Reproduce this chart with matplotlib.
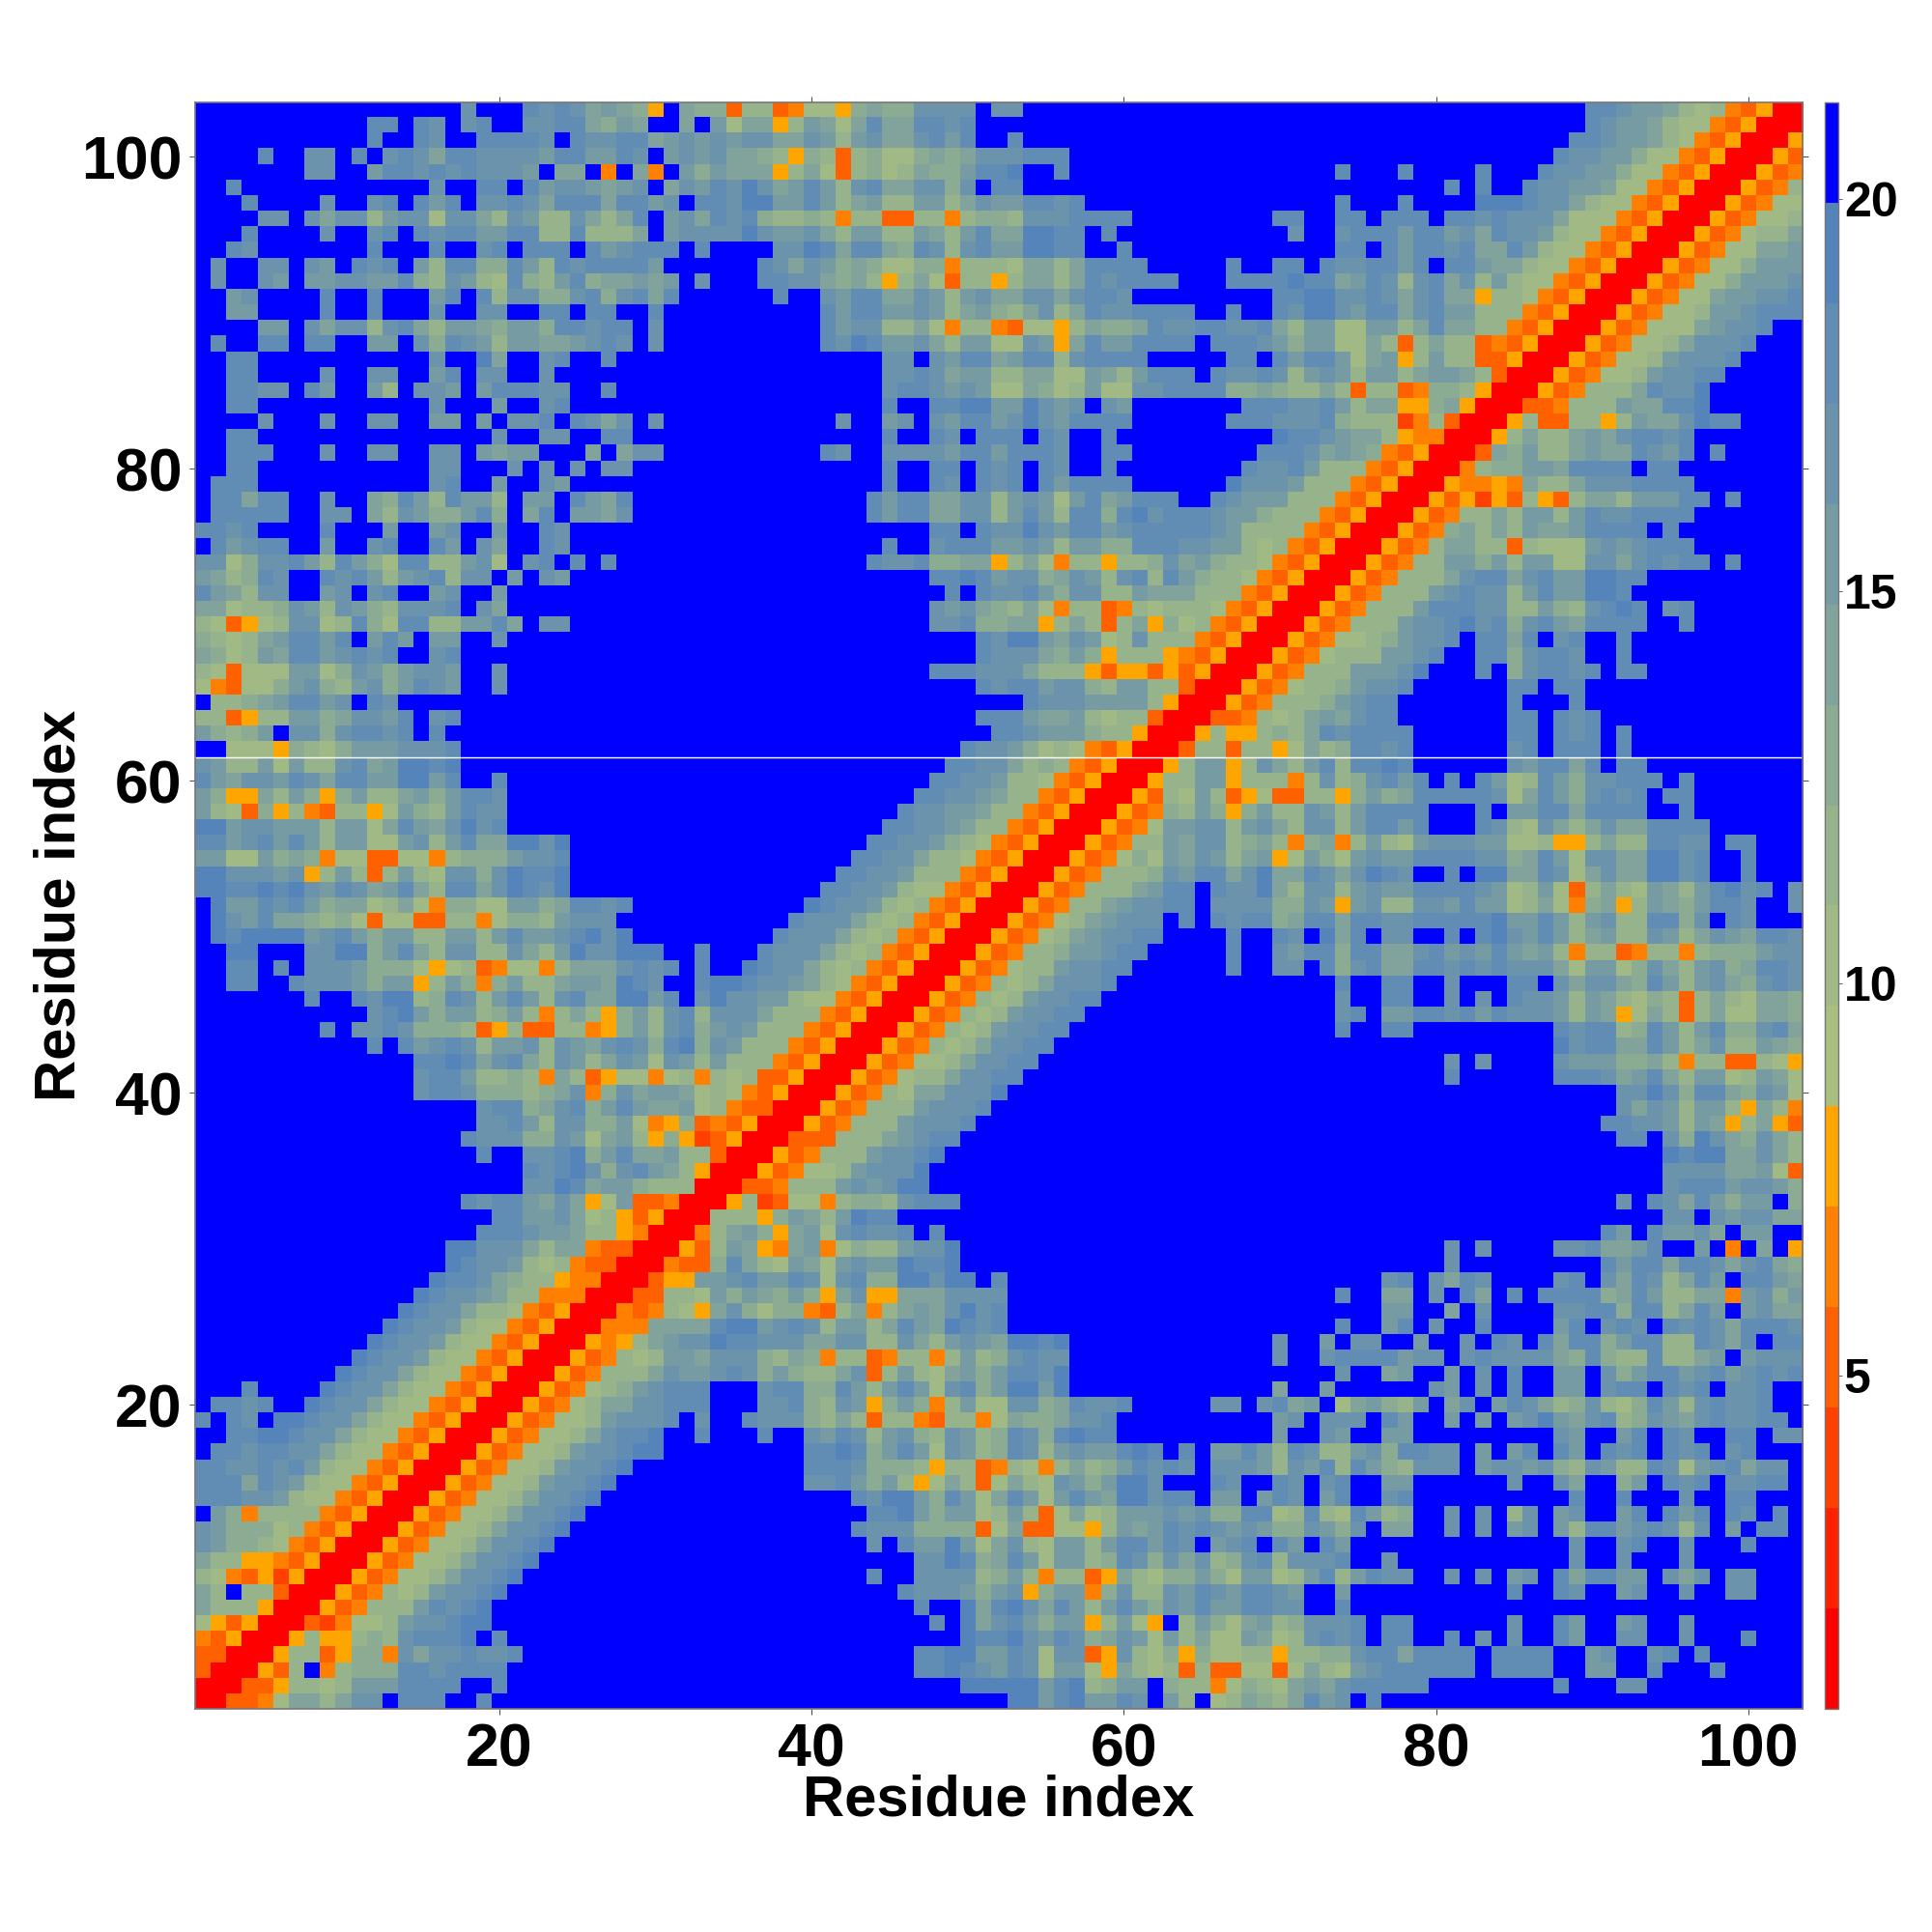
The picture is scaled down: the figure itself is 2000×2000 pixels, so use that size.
import numpy as np
import matplotlib
matplotlib.use("Agg")
import matplotlib.pyplot as plt
from matplotlib.colors import ListedColormap, BoundaryNorm

# Distance classes, one character per cell, upper triangle (x <= y).
# Rows run from residue y=103 down to y=1. Chunks: x=1-35, x=36-69, x=70-103.
rows_103_87 = [
".................C...DCDCABA95.A993 88347759A99CCCC.CC................ ....................DDCBBA87843500",
"...........DD.DC.CD..CCDDA9BA..A.B7 AA58BA7ADAADDCD................... ....................DCBBA877435000",
"...........D..DC..DDDDC.DCCDDABCBCB CCAACB8BCAACDBD..D................ ...................DDCBBA8743500",
"....D..CC.D.CDCADDCCCCBDDBBDC.BCBCA A98598389779A9ACCCDDD............. ..................DCCBB97743500",
".......CC..BDDCDCDCCCB.AA.4.A4.B9BA AA58A738978A99BDDE..D............. ....D...D....D...DCCBB97743500",
"..D............C..DD.DBCCBABC.ACBDC ECABDB8CDAACC9C.DD................ ...........D.D..DCCBBA7743500",
"...D....C..CD.DBD.CCDCADDDADDBC.DDC EEBBDB8AB88BB8ACBBDDCD............ ....D...D....EEEDCCA87743500",
"....CC.CACC8BCC7CCA8CB88CA8AD.BCADC D98898488338848998CCCDDDD......... DD..DD.DDD.DDCDCCCA77743500",
"...D....C..CD.DCDDBBDD88D888A.BCCCC ECBBCA8BB88BA8BDAAEEDD.D.......... .C..CDDDBDDBCADCCB87743500",
"..DC.......D...D..CD.DDD.DBCDDD.D.. ..CCEDADDA9DC8CDBBEEDD..D......... ....DD.DBDDCDAADB87743500",
".C..CC.CB.DCD.B8DD99DB8DCDDDDB..... .DCACB9A9779948887AA8ADDDD.....D.. DD.DCCDDBD.DDBAA87743500",
".C..CB.BBCCBBD98CB87D98BD9AABAB.C.. .DDCCA9A858A738858AA8ADCDDDD...DDD DEDDABDC8CDAC8B87743500",
"..BC....D..D...BD.D8CC99CD9CDAD.... ..D..CBDDAACB8BCAACCACDDC......... DDEECCDCACDAA588743500",
"..BB....D..D...C..CC..DD.DD..D..... .....DBDDBBCB8AB98AC8ADCCDDDD..D.. DCEECBDDACDBB88843500",
"....BB.CACC8CDA8BBA9BB9DDCDD.C..... .....DBCC88A7488437758A99ADCCDDCCD A8BB77BB8ADAA8843500",
".D..DD.DD..BB.C9DCB8BBAABCDC.C..... .....DCEDBBCA8BB77CB5ADBBDDDD.DDDC B9BB77A838A88343500",
"..DD...........C..EA..CD..D........ .........CC.CBDDABDD8CDDDD.....DD. DBDDB7AB58B8833500",
]
rows_86_70 = [
"..DD....C..CC..BD.CC..C............ .........CCDCABB88AA77BA8BDDD.DCCD C8BCB8BB8ABBA8300",
"..DDCC.DB..B8.CCB.BDDDCC..D........ .........CDDCBCB77A978B77CCDDDD99A 988A838834998500",
"..DD...........C...B..CD........... .........D..DDEEBBECBC.CB.......DD DCCDB8AA559A500",
"....C...C..CC..BB.B.CCD.DCAC.C..... ......C..BC.CBDDBCECBDDDD......DDD CCCD9888248300",
"..DD...............C..CC..DD....... .........D..DC.DDD.DC..D.......... EDDCBAA854400",
"..DDD...C..CC..CC.BABB...A.ACC..... .....DC..CCCCBDDBDDDC..DD........D DDCABA943500",
"..DD...........CC...C.C.C.CC....... .........D..DD.DCD.DC..D........DC CDB88843500",
".DDD...........CD..B..CB........... .........D..DC.DCD.DBDDDD......ECC CB88843500",
".DDADD..C..A9DB8DBB8.BB.DBAD....... ........DBDDAACC8BCB7BDABDDD..DCBB B88843500",
".DDDDD..CC.A8CB99BD9.AD.BBAC....... ........DBDDAACC8BDB8DD9DECDDDCBB9 88843500",
"DDCD....D...B..BC..B..DC........... ............DD.DCCECBDDBCDDDDDCB88 8843500",
".DBCDD..B..CD..DB.CA..DC........... .........D..CDDDBBCB8BB99DDDCCBB87 843500",
"CC79CCDB8DB97DD88BC7.CD.D.D........ ........DCCD99AA58A74885889CAB9887 43500",
"BA89DC..DCDB8BCD8CC.B.CB........... ............DDEDBCC9ACB8CD8DB98874 3500",
"DBA8CC..BC.CD..BC..B............... .............D.DCCDB9CC88BAAA88843 500",
"AA7889CB8CB98CCCD.CA............... ............CBCA98A748834878887435 00",
"873578CC78D97DD88BBDA.CC........... ............CCD99AA58A838A59784350 0",
]
rows_69_36 = [
"9878ABDDBD.BDB.BB..C............... ...............DCEEBACB78C88843500",
"A978BADDBCDCD..CD.................. ...............DCCCA9B95888543500",
"873777BB79CB9BCCB..C............... ............DDDCCCA8885355353500",
"743779BC98BC9BDCB..C............... ...............DCDDBCC98BB88300",
".889ABDDBC.DC...................... ..................DCCCBBBB8500",
"883588BB9ACCBD.CD.................. ...............DDDBAAB8788300",
"B989B.CC9CDDCD.D................... ................DDCBBB988500",
"..77759879BBBCCCD.................. ..............DCCB978743500",
"CB88B7B88CDABEEDE.................. .............DDCCA89843500",
"DBACCBDCADDBBEEBD..D............... ............DDCCB88743500",
"B955A8B959B88AB9BDDC............... ...........DDCCBA8843500",
"B873958438857B98BDCC............... ..........DCCBBA8843500",
"EEBCCBBB8BB7ADBACECD............... .........DDCCBA8843500",
"DDBCDBDB8BB77BC8BDAAEECE........... ........DDCCB98743500",
"BB77B9A9477337748999BCCD........... .......DDCCA88743500",
"EECCCBC58B838B87CC9CEDDE........... ......DDCCB88843500",
"EEDDEDECBDCABDA8DDACEDCE........... .....DDCCB87743500",
".EBBDCDB9AA78A749977BB9ADDCD....... ....EDCCB87843500",
".ECBDAA9897377338847998BCCC........ ...DCCCA87843500",
".EDEEEEBCDB9BB88BB8BDBBCDECE....... ..DCCCA87843500",
"..EE...CCEE9BDA8CC88CA8BECCEEE..D.. .DCCCA87843500",
"..DD.D.CCCB9997578347748AAACDCD.D.. EDCCA87843500",
"..DD..DCCCB9BB58B949B88ABBAEDC..DEE DCCBA8743500",
".......D..DCEE89DC8BDB8CDAAEEBD.CEC CBB87743500",
"...........CDEB9BB89B848A859B8CD8CC CA88843500",
"........D.CCDC99983583388459B8CD9BC B88843500",
"...........D.DBCDC8BBC8CBACDC9DE9CB 88843500",
"..............DDEDACDA8CB8ACB7CB8B8 8843500",
"..............CDDB88984A83577478487 833500",
"..............CDDC99989AC49CABBA787 43500",
"..................CDD9ACD9BDBAAB784 3300",
"..................CCDB8CC99B7459343 500",
".................DCCC99CB7AB8595235 00",
"..................D..CCDE9BDAAB8830 0",
]
rows_35_1 = [
".....................DCDEC9CDBA8500",
".....................CCEDABB988800",
".................DCDDBACA57B33400",
"...................DDBBCA7853500",
"..................DDDCBBA885400",
"................EECCCA8AA43300",
"................EDCCB87843300",
"...............EDDCA98854400",
"..............EDCCBA8844400",
".............EDCCA88743500",
"............EDCCB87743500",
"...........EDCCB87743500",
"..........EDCCB87743500",
".........EDCCA87743500",
"...D....EDCCA87743500",
".DDCD..EDCCA87743500",
"D.DC.EEDCCA87743500",
"..DDEEDCCA87743500",
".DDCDDCCA87743500",
"DDCCDCDB87743500",
"DDDADCB87743500",
"DDDCCB87743500",
".B94888843500",
"CB9997843500",
"CB998743500",
"A885543500",
"874352500",
"A8.88300",
"A888500",
"753500",
"43500",
"3300",
"300",
"00",
"0",
]

tick_values = [20, 40, 60, 80, 100]
bar_ticks = [5, 10, 15, 20]
x_label = "Residue index"
y_label = "Residue index"
band_colors = ["#ff0000", "#ff2000", "#ff4000", "#ff6000", "#ff8000", "#ffa500",
               "#a8bf80", "#a1ba85", "#97b38b", "#8cab93", "#81a39b", "#769ba3",
               "#6b93ab", "#618cb3", "#5584bb", "#0000ff"]

# Class boundaries of the colour bar
vmin, vmax, n_bands = 0.74, 21.24, 16
bounds = np.linspace(vmin, vmax, n_bands + 1)
mids = 0.5 * (bounds[:-1] + bounds[1:])
symbols = "0123456789ABCDE."
value_of = {s: mids[i] for i, s in enumerate(symbols)}

all_rows = rows_103_87 + rows_86_70 + rows_69_36 + rows_35_1
n = 103
widths = [35, 34, 34]
M = np.full((n, n), mids[-1])
for k, row in enumerate(all_rows):
    y = n - k
    chunks = row.split(" ")
    chunks += [""] * (3 - len(chunks))
    line = "".join(c[:w].ljust(w, ".") for c, w in zip(chunks, widths))
    for x in range(y):
        v = value_of[line[x]]
        M[y - 1, x] = v
        M[x, y - 1] = v

plt.rcParams["font.family"] = ["Liberation Sans", "DejaVu Sans"]
plt.rcParams["font.weight"] = "bold"

fig = plt.figure(figsize=(10, 10), dpi=200)
W = H = 2000.0
L, R, T, B = 201.8, 1866.4, 105.7, 1769.3
ax = fig.add_axes([L / W, 1 - B / H, (R - L) / W, (B - T) / H])
cmap = ListedColormap(band_colors)
norm = BoundaryNorm(bounds, cmap.N)
im = ax.imshow(M, origin="lower", cmap=cmap, norm=norm, aspect="auto",
               interpolation="nearest", extent=(0.5, n + 0.5, 0.5, n + 0.5))
ax.axhline(61.5, color="white", lw=0.5)
ax.set_xticks(tick_values)
ax.set_yticks(tick_values)
ax.tick_params(axis="both", which="major", direction="out", length=2.2, width=0.35,
               color="#444444", labelsize=22.5, top=True, right=True, pad=2.5)
for s in ax.spines.values():
    s.set_linewidth(0.6)
    s.set_color("#777777")

fig.text(1034 / W, 1 - 1864 / H, x_label, ha="center", va="center", fontsize=21.5, fontweight="bold")
fig.text(62 / W, 1 - 937 / H, y_label, ha="center", va="center", rotation=90, fontsize=21.5, fontweight="bold")

cax = fig.add_axes([1889 / W, 1 - B / H, 14 / W, (B - T) / H])
cb = fig.colorbar(im, cax=cax, boundaries=bounds, ticks=bar_ticks, spacing="proportional")
cb.ax.tick_params(length=1.6, width=0.3, color="#444444", labelsize=18, pad=0.5)
cb.outline.set_linewidth(0.5)
cb.outline.set_edgecolor("#777777")
cb.ax.minorticks_off()
for t in cb.ax.get_yticklabels():
    t.set_fontweight("bold")

fig.savefig("out.png", dpi=200, facecolor="white")
